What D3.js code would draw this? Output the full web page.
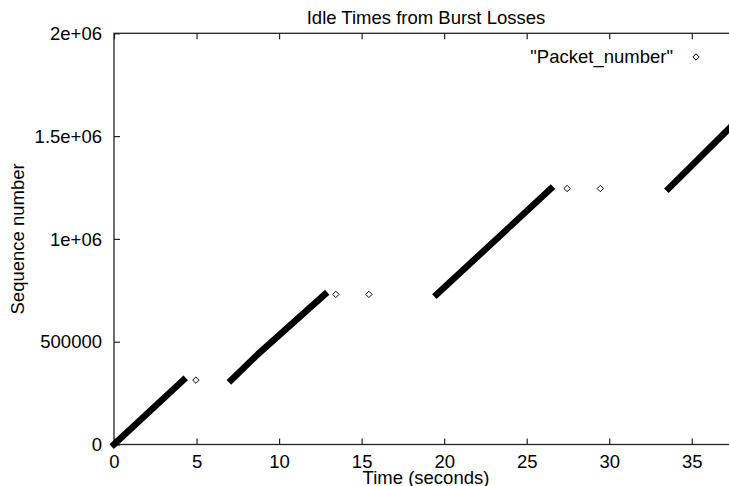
<!DOCTYPE html>
<html>
<head>
<meta charset="utf-8">
<script src="https://cdn.jsdelivr.net/npm/d3@7"></script>
<style>
  body { margin: 0; background: #fff; }
  svg { display: block; font-family: "Liberation Sans", Arial, sans-serif; }
</style>
</head>
<body>
<script>
// tick values and labels (gnuplot %g style)
const xTicks = [0, 5, 10, 15, 20, 25, 30, 35];
const yTicks = [0, 500000, 1000000, 1500000, 2000000];
const yTickLabels = ["0", "500000", "1e+06", "1.5e+06", "2e+06"];

// bursts of packets sent back to back: [time (s), sequence number]
const burst1 = [[0, 0], [4.2, 313000]];
const burst2 = [[7.1, 313000], [8.73, 440000], [12.77, 730000]];
const burst3 = [[19.55, 730000], [26.45, 1243000]];
const burst4 = [[33.6, 1245000], [37.8, 1580000]];

// lone retransmissions during the idle times
const retransmits = [[4.96, 313000], [13.44, 730000], [15.44, 730000],
                     [27.45, 1245000], [29.46, 1245000]];

const W = 729, H = 486;
const margin = {top: 33.3, left: 114, bottom: 444.5, right: 738};

const svg = d3.select("body").append("svg")
    .attr("width", W)
    .attr("height", H);

const x = d3.scaleLinear().domain([0, 37.8]).range([margin.left, margin.right]);
const y = d3.scaleLinear().domain([0, 2000000]).range([margin.bottom, margin.top]);

const fontSize = "18.5px";

// title
svg.append("text")
    .attr("x", (margin.left + margin.right) / 2)
    .attr("y", 23.5)
    .attr("text-anchor", "middle")
    .style("font-size", fontSize)
    .text("Idle Times from Burst Losses");

// axes (ticks point inward, as gnuplot does)
const xAxis = d3.axisBottom(x).tickValues(xTicks).tickSizeInner(-6).tickSizeOuter(0)
    .tickFormat(d3.format("d"));
const gx = svg.append("g")
    .attr("transform", "translate(0," + margin.bottom + ")")
    .call(xAxis);
gx.selectAll("text").attr("y", 23.5).attr("dy", null);

const xTop = d3.axisTop(x).tickValues(xTicks).tickSizeInner(-6).tickSizeOuter(0)
    .tickFormat("");
svg.append("g")
    .attr("transform", "translate(0," + margin.top + ")")
    .call(xTop);

const yAxis = d3.axisLeft(y).tickValues(yTicks).tickSizeInner(-6).tickSizeOuter(0)
    .tickFormat((d, i) => yTickLabels[i]);
const gy = svg.append("g")
    .attr("transform", "translate(" + margin.left + ",0)")
    .call(yAxis);
gy.selectAll("text").attr("x", -12).attr("dy", "0.34em");

svg.selectAll(".domain").remove();
svg.selectAll(".tick line").attr("stroke", "#222").attr("stroke-width", 1.2);
svg.selectAll(".tick text")
    .attr("fill", "#000")
    .style("font-size", fontSize)
    .style("font-family", "'Liberation Sans', Arial, sans-serif");

// plot border
svg.append("rect")
    .attr("x", margin.left)
    .attr("y", margin.top)
    .attr("width", margin.right - margin.left)
    .attr("height", margin.bottom - margin.top)
    .attr("fill", "none")
    .attr("stroke", "#222")
    .attr("stroke-width", 1.3);

// axis labels
svg.append("text")
    .attr("x", (margin.left + margin.right) / 2)
    .attr("y", 484)
    .attr("text-anchor", "middle")
    .style("font-size", fontSize)
    .text("Time (seconds)");

svg.append("text")
    .attr("transform", "translate(24," + (margin.top + margin.bottom) / 2 + ") rotate(-90)")
    .attr("text-anchor", "middle")
    .style("font-size", fontSize)
    .text("Sequence number");

// dense packet runs drawn as thick lines
const line = d3.line().x(d => x(d[0])).y(d => y(d[1]));
svg.selectAll("path.burst")
    .data([burst1, burst2, burst3, burst4])
    .enter().append("path")
    .attr("class", "burst")
    .attr("d", line)
    .attr("fill", "none")
    .attr("stroke", "#000")
    .attr("stroke-width", 6.5)
    .attr("stroke-linecap", "square")
    .attr("stroke-linejoin", "round");

// diamond marker
const diamond = d3.symbol().type(d3.symbolDiamond2).size(26);

svg.selectAll("path.retx")
    .data(retransmits)
    .enter().append("path")
    .attr("class", "retx")
    .attr("d", diamond)
    .attr("transform", d => "translate(" + x(d[0]) + "," + y(d[1]) + ")")
    .attr("fill", "#fff")
    .attr("stroke", "#000")
    .attr("stroke-width", 1);

// legend
svg.append("text")
    .attr("x", 673)
    .attr("y", 63.3)
    .attr("text-anchor", "end")
    .style("font-size", fontSize)
    .text("\"Packet_number\"");

svg.append("path")
    .attr("d", diamond)
    .attr("transform", "translate(696,57)")
    .attr("fill", "#fff")
    .attr("stroke", "#000")
    .attr("stroke-width", 1);
</script>
</body>
</html>
